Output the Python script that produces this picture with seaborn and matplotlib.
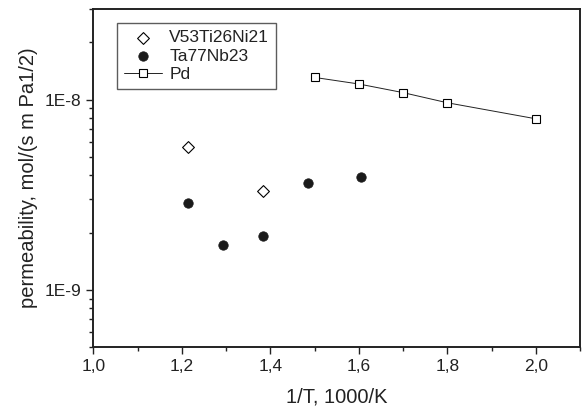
import matplotlib
matplotlib.use("Agg")
import numpy as np
import pandas as pd
import seaborn as sns
import matplotlib.pyplot as plt
from matplotlib.ticker import FixedLocator, LogLocator, NullFormatter, FuncFormatter

# data
vti_x = [1.215, 1.384]
vti_y = [5.63e-9, 3.33e-9]

tanb_x = [1.215, 1.294, 1.383, 1.486, 1.605]
tanb_y = [2.86e-9, 1.73e-9, 1.93e-9, 3.66e-9, 3.92e-9]

pd_x = [1.5, 1.6, 1.7, 1.8, 2.0]
pd_y = [1.31e-8, 1.21e-8, 1.09e-8, 9.64e-9, 7.94e-9]

x_ticks = [1.0, 1.2, 1.4, 1.6, 1.8, 2.0]
x_tick_labels = ["1,0", "1,2", "1,4", "1,6", "1,8", "2,0"]

sns.set_style("ticks")
plt.rcParams['font.family'] = ['Liberation Sans', 'DejaVu Sans']

fig, ax = plt.subplots(figsize=(5.83, 4.08), dpi=100)
fig.subplots_adjust(left=0.16, right=0.995, top=0.978, bottom=0.149)

sns.scatterplot(x=vti_x, y=vti_y, ax=ax, marker="D", s=36, facecolor="white",
                edgecolor="black", linewidth=0.8, label="V53Ti26Ni21", zorder=3)
sns.scatterplot(x=tanb_x, y=tanb_y, ax=ax, marker="o", s=46, color="#1a1a1a",
                edgecolor="#1a1a1a", label="Ta77Nb23", zorder=3)
sns.lineplot(x=pd_x, y=pd_y, ax=ax, marker="s", markersize=5.5, markerfacecolor="white",
             markeredgecolor="black", markeredgewidth=0.8, color="#222222", linewidth=0.7,
             label="Pd", zorder=3)

ax.set_yscale("log")
ax.set_xlim(1.0, 2.1)
ax.set_ylim(5e-10, 3e-8)

ax.xaxis.set_major_locator(FixedLocator(x_ticks))
ax.set_xticklabels(x_tick_labels)
ax.xaxis.set_minor_locator(FixedLocator([1.1, 1.3, 1.5, 1.7, 1.9, 2.1]))
ax.yaxis.set_major_locator(FixedLocator([1e-9, 1e-8]))
ax.yaxis.set_major_formatter(FuncFormatter(lambda v, p: "1E%d" % round(np.log10(v))))
ax.yaxis.set_minor_locator(LogLocator(base=10, subs=np.arange(2, 10)))
ax.yaxis.set_minor_formatter(NullFormatter())

ax.tick_params(axis="both", which="major", length=5, width=1.0, labelsize=12.5, color="#222222",
               labelcolor="#222222")
ax.tick_params(axis="both", which="minor", length=3, width=1.0, color="#222222")
for sp in ax.spines.values():
    sp.set_linewidth(1.4)
    sp.set_color("#222222")

ax.set_xlabel("1/T, 1000/K", fontsize=14.5, labelpad=10, color="#222222")
ax.set_ylabel("permeability, mol/(s m Pa1/2)", fontsize=14.5, labelpad=5, color="#222222")

leg = ax.legend(loc="upper left", bbox_to_anchor=(0.049, 0.958), borderaxespad=0,
                fontsize=12.5, frameon=True, fancybox=False, edgecolor="#333333",
                handlelength=2.2, borderpad=0.4, labelspacing=0.18, handletextpad=0.4)
leg.get_frame().set_linewidth(1.0)
for t in leg.get_texts():
    t.set_color("#222222")

fig.savefig("out.png", dpi=100)
